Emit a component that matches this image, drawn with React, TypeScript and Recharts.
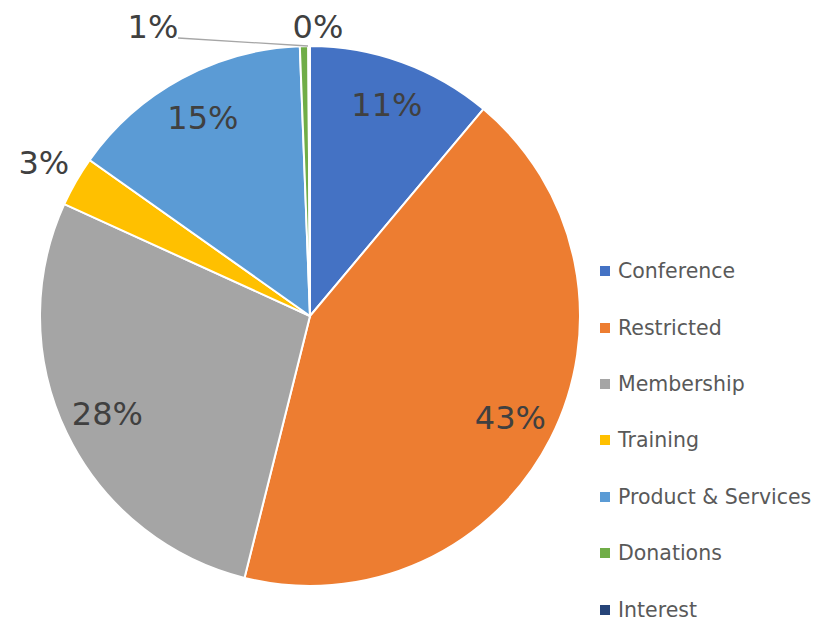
import React from "react";
import { PieChart, Pie, Cell } from "recharts";

const categories = ["Conference", "Restricted", "Membership", "Training", "Product & Services", "Donations", "Interest"];
const values = [11.1, 42.8, 27.9, 3.0, 14.6, 0.5, 0.1];
const colors = ["#4472C4", "#ED7D31", "#A5A5A5", "#FFC000", "#5B9BD5", "#70AD47", "#264478"];

const data = categories.map((name, i) => ({ name, value: values[i] }));
const total = values.reduce((a, b) => a + b, 0);

const RAD = Math.PI / 180;
const FONT = "'DejaVu Sans', Verdana, sans-serif";

const renderLabel = (props: any) => {
  const { cx, cy, midAngle, outerRadius, index } = props;
  const pct = Math.round(((values[index] * 1000) / total) / 10 + 1e-9);
  const text = `${pct}%`;
  const share = values[index] / total;
  let x: number;
  let y: number;
  let extra: React.ReactNode = null;
  if (index === 5) {
    x = cx - 157;
    y = cy - 289;
    extra = (
      <line x1={cx - 132} y1={cy - 278} x2={cx - 2} y2={cy - outerRadius} stroke="#A6A6A6" strokeWidth={1.3} />
    );
  } else if (index === 6) {
    x = cx + 8;
    y = cy - 289;
  } else {
    const r = share >= 0.05 ? outerRadius * 0.833 : outerRadius + 37;
    x = cx + r * Math.cos(-midAngle * RAD);
    y = cy + r * Math.sin(-midAngle * RAD);
  }
  return (
    <g key={`lbl-${index}`}>
      {extra}
      <text x={x} y={y} fill="#404040" fontSize={32} fontFamily={FONT} textAnchor="middle" dominantBaseline="central">
        {text}
      </text>
    </g>
  );
};

export default function App() {
  return (
    <div style={{ width: 805, height: 613, position: "relative" }}>
      <PieChart width={805} height={613}>
        <Pie
          data={data}
          dataKey="value"
          nameKey="name"
          cx={297}
          cy={303}
          outerRadius={270}
          startAngle={90}
          endAngle={-270}
          stroke="#FFFFFF"
          strokeWidth={2}
          label={renderLabel}
          labelLine={false}
          isAnimationActive={false}
        >
          {data.map((d, i) => (
            <Cell key={d.name} fill={colors[i]} />
          ))}
        </Pie>
      </PieChart>
      <div
        style={{
          position: "absolute",
          left: 592,
          top: 235,
          fontFamily: FONT,
          fontSize: 20.5,
          color: "#595959",
        }}
      >
        {categories.map((c, i) => (
          <div key={c} style={{ height: 56.4, display: "flex", alignItems: "center", whiteSpace: "nowrap" }}>
            <span style={{ width: 10, height: 10, background: colors[i], display: "inline-block", marginRight: 8 }} />
            <span>{c}</span>
          </div>
        ))}
      </div>
    </div>
  );
}
